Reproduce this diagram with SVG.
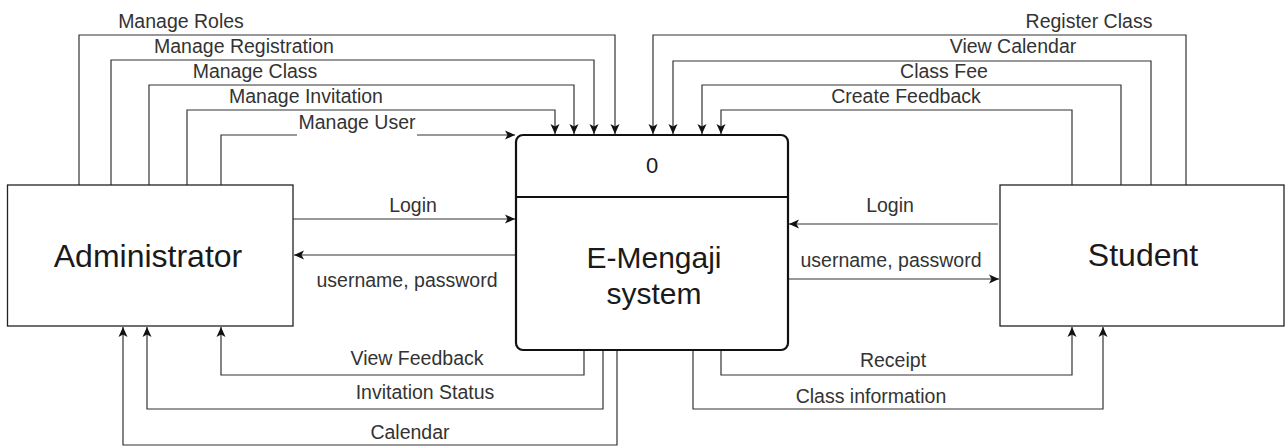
<svg xmlns="http://www.w3.org/2000/svg" width="1287" height="446" viewBox="0 0 1287 446">
<style>
.box{fill:#fff;stroke:#222;stroke-width:1.3}
.proc{fill:#fff;stroke:#111;stroke-width:2.2}
.big{font-family:"Liberation Sans",Arial,sans-serif;font-size:32px;fill:#1a1a1a;text-anchor:middle}
.mid{font-family:"Liberation Sans",Arial,sans-serif;font-size:30px;fill:#1a1a1a;text-anchor:middle}
.lbl{font-family:"Liberation Sans",Arial,sans-serif;font-size:19.5px;fill:#333;text-anchor:middle}
.c{fill:none;stroke:#333;stroke-width:1.2;marker-end:url(#arr)}
</style>
<defs>
<marker id="arr" viewBox="0 0 10 10" refX="10" refY="5" markerWidth="10" markerHeight="10" markerUnits="userSpaceOnUse" orient="auto">
<path d="M0,0.5 L10,5 L0,9.5 L2.5,5 z" fill="#111"/>
</marker>
</defs>
<g id="connectors">
<path class="c" d="M79,185 V35 H615 V134"/>
<path class="c" d="M111,185 V60 H594 V134"/>
<path class="c" d="M149,185 V85 H574 V134"/>
<path class="c" d="M187,185 V110 H555 V134"/>
<path class="c" d="M221,185 V135 H515"/>
<path class="c" d="M1186,185 V35 H653 V134"/>
<path class="c" d="M1151,185 V61 H673 V134"/>
<path class="c" d="M1121,185 V85 H702 V134"/>
<path class="c" d="M1072,185 V110 H721 V134"/>
<path class="c" d="M293,219 H515"/>
<path class="c" d="M516,255 H294"/>
<path class="c" d="M998,224 H789"/>
<path class="c" d="M788,279 H999"/>
<path class="c" d="M584,350 V375 H221 V327"/>
<path class="c" d="M603,350 V409 H147 V327"/>
<path class="c" d="M617,350 V445 H123 V327"/>
<path class="c" d="M721,350 V375 H1072 V327"/>
<path class="c" d="M693,350 V409 H1103 V327"/>
<rect x="297" y="120" width="120" height="22" fill="#fff"/>
<text class="lbl" x="181" y="28">Manage Roles</text>
<text class="lbl" x="244" y="53">Manage Registration</text>
<text class="lbl" x="255" y="78">Manage Class</text>
<text class="lbl" x="306" y="103">Manage Invitation</text>
<text class="lbl" x="357" y="129">Manage User</text>
<text class="lbl" x="1089" y="28">Register Class</text>
<text class="lbl" x="1013" y="53">View Calendar</text>
<text class="lbl" x="944" y="78">Class Fee</text>
<text class="lbl" x="906" y="103">Create Feedback</text>
<text class="lbl" x="413" y="212">Login</text>
<text class="lbl" x="407" y="287">username, password</text>
<text class="lbl" x="890" y="212">Login</text>
<text class="lbl" x="891" y="267">username, password</text>
<text class="lbl" x="417" y="365">View Feedback</text>
<text class="lbl" x="425" y="399">Invitation Status</text>
<text class="lbl" x="410" y="439">Calendar</text>
<text class="lbl" x="893" y="367">Receipt</text>
<text class="lbl" x="871" y="403">Class information</text>
</g>
<g id="administrator">
<rect class="box" x="7.5" y="185" width="285.5" height="141"/>
<text class="big" x="148" y="267">Administrator</text>
</g>
<g id="student">
<rect class="box" x="1000" y="185" width="284" height="141"/>
<text class="big" x="1143" y="266">Student</text>
</g>
<g id="process">
<rect class="proc" x="516" y="135" width="272" height="215" rx="7" ry="7"/>
<line x1="516" y1="197" x2="788" y2="197" stroke="#111" stroke-width="2.2"/>
<text class="mid" x="652" y="173" style="font-size:22px">0</text>
<text class="mid" x="654" y="268">E-Mengaji</text>
<text class="mid" x="654" y="304">system</text>
</g>
</svg>
